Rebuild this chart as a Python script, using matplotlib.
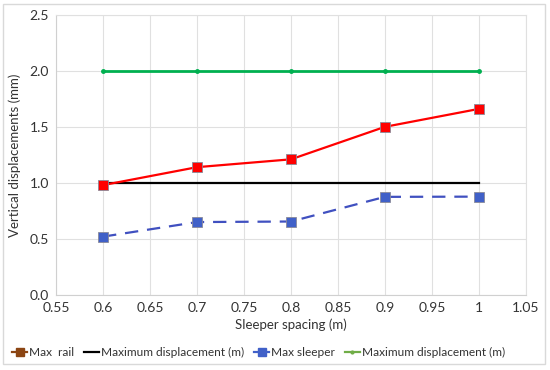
import matplotlib.pyplot as plt
from matplotlib.lines import Line2D
from matplotlib.patches import Rectangle

plt.rcParams['font.family'] = ['Lato', 'DejaVu Sans']

spacing = [0.6, 0.7, 0.8, 0.9, 1.0]
max_rail = [0.98, 1.14, 1.21, 1.50, 1.66]
max_sleeper = [0.52, 0.65, 0.655, 0.875, 0.877]
limit_rail = [1.0, 1.0, 1.0, 1.0, 1.0]
limit_sleeper = [2.0, 2.0, 2.0, 2.0, 2.0]

xticks = [0.55, 0.6, 0.65, 0.7, 0.75, 0.8, 0.85, 0.9, 0.95, 1, 1.05]
xlabels = ['0.55', '0.6', '0.65', '0.7', '0.75', '0.8', '0.85', '0.9', '0.95', '1', '1.05']
yticks = [0.0, 0.5, 1.0, 1.5, 2.0, 2.5]

fig = plt.figure(figsize=(5.5, 3.7), dpi=100)
ax = fig.add_axes([0.102, 0.203, 0.854, 0.757])

ax.plot(spacing, limit_sleeper, color='#00b050', lw=2, marker='o', ms=2.5, zorder=3)
ax.plot(spacing, limit_rail, color='black', lw=1.6, zorder=3)
ax.plot(spacing, max_rail, color='#ff0000', lw=1.6, marker='s', ms=7,
        mfc='#ff0000', mec='#8a8a9a', mew=0.6, zorder=4)
ax.plot(spacing, max_sleeper, color='#4050c0', lw=1.6, ls=(0, (6, 4)), marker='s', ms=7,
        mfc='#4060c8', mec='#8a8a9a', mew=0.6, zorder=4)

ax.set_xlim(0.55, 1.05)
ax.set_ylim(0, 2.5)
ax.set_xticks(xticks)
ax.set_xticklabels(xlabels)
ax.set_yticks(yticks)
ax.set_yticklabels([f'{v:.1f}' for v in yticks])
ax.grid(True, color='#e0e0e0', lw=0.8)
ax.set_axisbelow(True)
for s in ['top', 'right']:
    ax.spines[s].set_color('#e0e0e0')
for s in ['left', 'bottom']:
    ax.spines[s].set_color('#d0d0d0')
ax.tick_params(length=0, labelsize=10, colors='#333333', pad=5)
ax.set_xlabel('Sleeper spacing (m)', fontsize=9.5, color='#333333', labelpad=3)
ax.set_ylabel('Vertical displacements (mm)', fontsize=9.5, color='#333333', labelpad=6)

handles = [
    Line2D([], [], color='#8b4513', lw=1.6, marker='s', ms=6, mfc='#8b4513', mec='#8b4513'),
    Line2D([], [], color='black', lw=1.6),
    Line2D([], [], color='#4060c8', lw=1.6, marker='s', ms=6, mfc='#4060c8', mec='#4060c8'),
    Line2D([], [], color='#70ad47', lw=1.6, marker='o', ms=2),
]
labels = ['Max  rail', 'Maximum displacement (m)', 'Max sleeper', 'Maximum displacement (m)']
fig.legend(handles, labels, loc='center', bbox_to_anchor=(0.47, 0.048), ncol=4, frameon=False,
           fontsize=8.6, handlelength=1.3, handletextpad=0.15, columnspacing=0.8,
           labelcolor='#333333')

fig.patches.append(Rectangle((0.006, 0.015), 0.985, 0.975, transform=fig.transFigure,
                             fill=False, ec='#d9d9d9', lw=1))

fig.savefig('out.png', dpi=100)
